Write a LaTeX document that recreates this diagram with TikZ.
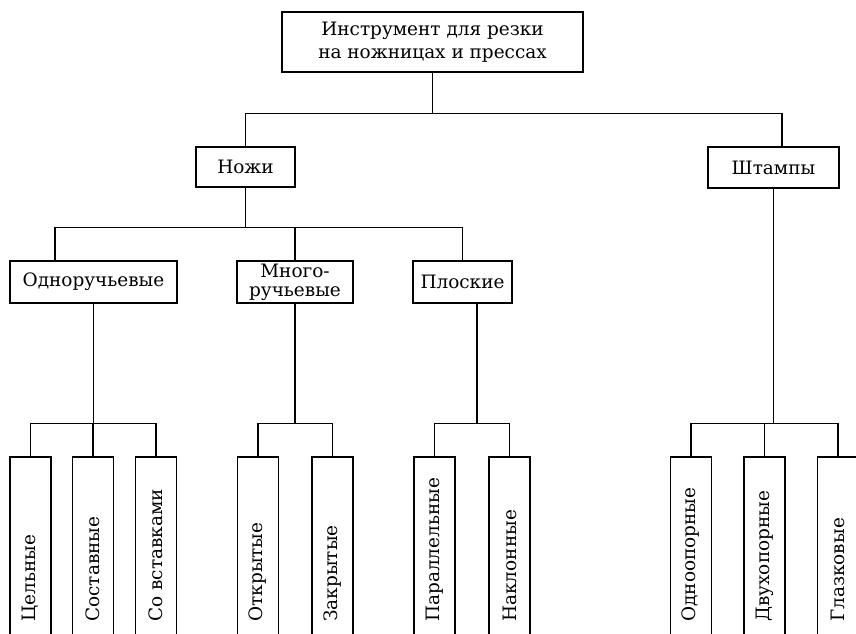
\documentclass[tikz,border=0pt]{standalone}
\usepackage{fontspec}
\setmainfont{DejaVu Serif}
\usetikzlibrary{calc}

\begin{document}
\begin{tikzpicture}[
  x=0.02cm, y=-0.02cm,
  box/.style={draw, line width=0.8pt, align=center, inner sep=1pt, font=\fontsize{10.5}{13}\selectfont},
  leaf/.style={draw, line width=0.8pt, minimum width=0.82cm, minimum height=4.06cm, inner sep=0pt},
  leaftext/.style={rotate=90, anchor=west, inner sep=0pt, font=\fontsize{10.5}{13}\selectfont},
  conn/.style={line width=0.8pt}
]
\useasboundingbox (0,0) rectangle (856,634);

% upper levels
\node[box, minimum width=6.02cm, minimum height=1.2cm] (root) at (432.5,42) {Инструмент для резки\\на ножницах и прессах};

\node[box, minimum width=1.98cm, minimum height=0.8cm] (nozhi) at (245.5,167) {Ножи};
\node[box, minimum width=2.62cm, minimum height=0.82cm] (shtampy) at (773.5,167.5) {Штампы};

\node[box, minimum width=3.34cm, minimum height=0.84cm] (odnor) at (93.5,282) {Одноручьевые};
\node[box, minimum width=2.32cm, minimum height=0.84cm, font=\fontsize{10.5}{11}\selectfont] (mnogor) at (295,282) {Много-\\ручьевые};
\node[box, minimum width=1.98cm, minimum height=0.84cm] (plosk) at (462.5,282) {Плоские};

% leaves, open at the bottom
\foreach \name/\x/\txt in {cel/30.5/Цельные, sost/93/Составные, sovst/156/Со вставками,
    otkr/258/Открытые, zakr/332.5/Закрытые, parall/434.5/Параллельные, nakl/509.5/Наклонные,
    odnop/691/Одноопорные, dvukh/764.5/Двухопорные, glaz/838/Глазковые}{
  \node[leaf] (\name) at (\x,558.5) {};
  \node[leaftext] (\name-t) at (\x,622) {\txt};
}

% connectors
\coordinate (b0) at ($(root.south)+(0,41)$);
\draw[conn] (root.south) -- (b0);
\draw[conn] (nozhi.north) |- (b0) -| ($(shtampy.north)+(8.5,0)$);

\coordinate (b1) at ($(nozhi.south)+(0,40)$);
\draw[conn] (nozhi.south) -- (b1);
\draw[conn] ($(odnor.north)+(-38.5,0)$) |- (b1) -| (plosk.north);
\draw[conn] (mnogor.north) -- (mnogor.north |- b1);

\coordinate (b2) at ($(odnor.south)+(0,120)$);
\draw[conn] (odnor.south) -- (b2);
\draw[conn] (cel.north) |- (b2) -| (sovst.north);
\draw[conn] (sost.north) -- (sost.north |- b2);

\coordinate (b3) at ($(mnogor.south)+(0,120)$);
\draw[conn] (mnogor.south) -- (b3);
\draw[conn] (otkr.north) |- (b3) -| (zakr.north);

\coordinate (b4) at ($(plosk.south)+(14.5,120)$);
\draw[conn] ($(plosk.south)+(14.5,0)$) -- (b4);
\draw[conn] (parall.north) |- (b4) -| (nakl.north);

\coordinate (b5) at ($(shtampy.south)+(0,235)$);
\draw[conn] (shtampy.south) -- (b5);
\draw[conn] (odnop.north) |- (b5) -| (glaz.north);
\draw[conn] (dvukh.north) -- (dvukh.north |- b5);

\end{tikzpicture}
\end{document}
